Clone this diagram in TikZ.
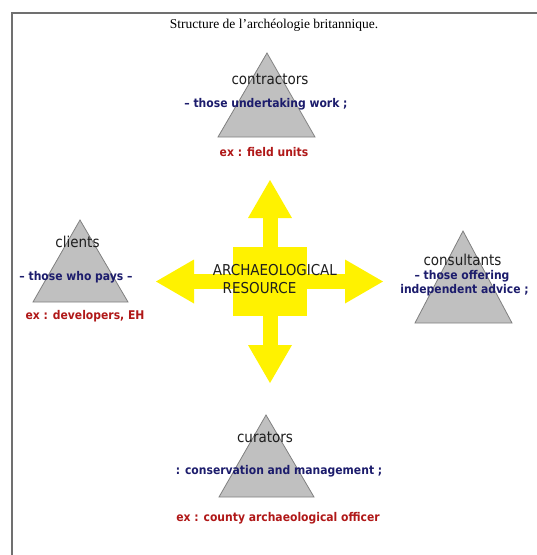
\documentclass[tikz,border=0pt]{standalone}
\usepackage{fontspec}
\setmainfont{Liberation Serif}
\newfontfamily\lblfont{DejaVu Sans Condensed}
\usetikzlibrary{arrows.meta}
\definecolor{trifill}{RGB}{192,192,192}
\definecolor{triline}{RGB}{128,128,128}
\definecolor{navytxt}{RGB}{28,28,108}
\definecolor{redtxt}{RGB}{176,24,24}
\definecolor{labtxt}{RGB}{30,30,30}
\definecolor{framegray}{RGB}{112,112,112}
\tikzset{
  tri/.style={fill=trifill, draw=triline, line width=0.8pt, line join=miter},
  role/.style={inner sep=0pt, font=\lblfont\fontsize{15}{17}\selectfont, text=labtxt},
  desc/.style={inner sep=0pt, font=\lblfont\bfseries\fontsize{12}{14}\selectfont, text=navytxt},
  example/.style={inner sep=0pt, font=\lblfont\bfseries\fontsize{12}{14}\selectfont, text=redtxt},
  coretxt/.style={inner sep=0pt, font=\lblfont\fontsize{15}{17}\selectfont, text=labtxt},
  bigarrow/.style={draw=yellow, line width=15pt, -{Triangle[width=44pt,length=38pt,line width=0pt]}},
  frame/.style={draw=framegray, line width=1.6pt}
}
\begin{document}
\begin{tikzpicture}[x=1pt,y=-1pt]
\useasboundingbox (0,0) rectangle (537,555);
% frame
\draw[frame] (11,13) -- (537,13);
\draw[frame] (12,13) -- (12,555);
% title
\node[inner sep=0pt, font=\fontsize{13.5}{15}\selectfont] (title) at (274,25) {Structure de l’archéologie britannique.};
% triangles
\draw[tri] (267,53) -- (315,137) -- (218,137) -- cycle;
\draw[tri] (80,220) -- (128,302) -- (33,302) -- cycle;
\draw[tri] (463,231) -- (512,323) -- (415,323) -- cycle;
\draw[tri] (266,415) -- (314,497) -- (219,497) -- cycle;
% central resource
\node[fill=yellow, minimum width=74pt, minimum height=69pt, inner sep=0pt] (core) at (270,281.5) {};
\coordinate (tipN) at (270,180);
\coordinate (tipS) at (270,383);
\coordinate (tipW) at (156,281.5);
\coordinate (tipE) at (383,281.5);
\draw[bigarrow] (core.north) -- (tipN);
\draw[bigarrow] (core.south) -- (tipS);
\draw[bigarrow] (core.west) -- (tipW);
\draw[bigarrow] (core.east) -- (tipE);
\node[coretxt] (arch) at (275,270) {ARCHAEOLOGICAL};
\node[coretxt] (res) at (259.5,288) {RESOURCE};
% contractors
\node[role] (contr) at (270,79) {contractors};
\node[desc] (contrd) at (266,104) {– those undertaking work ;};
\node[example] (contre) at (264,152) {ex : field units};
% clients
\node[role] (cli) at (77.5,242) {clients};
\node[desc] (clid) at (76,277) {– those who pays –};
\node[example] (clie) at (85,316) {ex : developers, EH};
% consultants
\node[role] (cons) at (462.5,260) {consultants};
\node[desc] (consd1) at (462,276) {– those offering};
\node[desc] (consd2) at (464.5,290) {independent advice ;};
% curators
\node[role] (cur) at (265,437) {curators};
\node[desc] (curd) at (279,471) {: conservation and management ;};
\node[example] (cure) at (278,518) {ex : county archaeological officer};
\end{tikzpicture}
\end{document}
